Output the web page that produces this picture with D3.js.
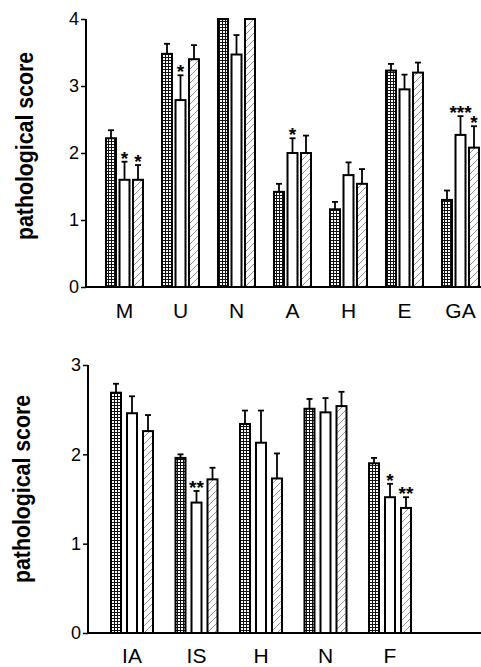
<!DOCTYPE html>
<html>
<head>
<meta charset="utf-8">
<script src="https://cdn.jsdelivr.net/npm/d3@7"></script>
<style>
  body { margin: 0; background: #fff; }
  svg { display: block; }
</style>
</head>
<body>
<div id="chart"></div>
<script>
// top panel
var topCats = ["M", "U", "N", "A", "H", "E", "GA"];
var topMean1 = [2.22, 3.48, 4.00, 1.42, 1.16, 3.23, 1.30];
var topErr1  = [0.12, 0.15, 0.00, 0.12, 0.11, 0.10, 0.14];
var topMean2 = [1.60, 2.79, 3.47, 2.00, 1.67, 2.95, 2.27];
var topErr2  = [0.27, 0.37, 0.29, 0.22, 0.19, 0.22, 0.28];
var topMean3 = [1.60, 3.40, 4.00, 2.00, 1.54, 3.20, 2.08];
var topErr3  = [0.22, 0.21, 0.00, 0.26, 0.22, 0.15, 0.32];
var topStars2 = ["*", "*", "", "*", "", "", "***"];
var topStars3 = ["*", "", "", "", "", "", "*"];
var topTicks = [0, 1, 2, 3, 4];

// bottom panel
var botCats = ["IA", "IS", "H", "N", "F"];
var botMean1 = [2.69, 1.96, 2.34, 2.51, 1.90];
var botErr1  = [0.10, 0.04, 0.15, 0.11, 0.06];
var botMean2 = [2.46, 1.46, 2.13, 2.47, 1.52];
var botErr2  = [0.19, 0.13, 0.36, 0.16, 0.15];
var botMean3 = [2.26, 1.72, 1.73, 2.54, 1.40];
var botErr3  = [0.18, 0.13, 0.28, 0.16, 0.12];
var botStars2 = ["", "**", "", "", "*"];
var botStars3 = ["", "", "", "", "**"];
var botTicks = [0, 1, 2, 3];

var W = 481, H = 667;
var svg = d3.select("#chart").append("svg")
    .attr("width", W).attr("height", H);

var defs = svg.append("defs");
// dark grid fill
var pg = defs.append("pattern").attr("id", "grid")
    .attr("patternUnits", "userSpaceOnUse").attr("width", 3).attr("height", 3);
pg.append("rect").attr("width", 3).attr("height", 3).attr("fill", "#111");
pg.append("rect").attr("x", 1).attr("y", 1).attr("width", 2).attr("height", 2).attr("fill", "#fff");
// light diagonal hatch
var ph = defs.append("pattern").attr("id", "hatch")
    .attr("patternUnits", "userSpaceOnUse").attr("width", 7).attr("height", 7);
ph.append("rect").attr("width", 7).attr("height", 7).attr("fill", "#fff");
ph.append("path").attr("d", "M-1,8 L8,-1 M-1,1 L1,-1 M6,8 L8,6")
    .attr("stroke", "#777").attr("stroke-width", 0.8);

var fills = ["url(#grid)", "#fff", "url(#hatch)"];
var font = "Arial, 'Liberation Sans', sans-serif";

function panel(cfg) {
    var g = svg.append("g");

    var x = d3.scaleBand().domain(cfg.cats).range(cfg.xRange);
    var xSub = d3.scaleBand().domain([0, 1, 2]).range(cfg.subRange).paddingInner(cfg.subPad);
    var y = d3.scaleLinear().domain([0, cfg.max]).range([cfg.y0, cfg.yTop]);

    var rows = [];
    cfg.cats.forEach(function(c, i) {
        [0, 1, 2].forEach(function(s) {
            rows.push({cat: c, s: s, v: cfg.means[s][i], e: cfg.errs[s][i], star: cfg.stars[s] ? cfg.stars[s][i] : ""});
        });
    });
    var cx = function(d) { return x(d.cat) + xSub(d.s) + xSub.bandwidth() / 2; };

    // error bars (upward only)
    var eb = g.selectAll(".err").data(rows).enter().append("g");
    eb.append("line")
        .attr("x1", cx).attr("x2", cx)
        .attr("y1", function(d) { return y(d.v); })
        .attr("y2", function(d) { return y(d.v + d.e); })
        .attr("stroke", "#000").attr("stroke-width", 1.8);
    eb.filter(function(d) { return d.e > 0; }).append("line")
        .attr("x1", function(d) { return cx(d) - 3; })
        .attr("x2", function(d) { return cx(d) + 3; })
        .attr("y1", function(d) { return y(d.v + d.e); })
        .attr("y2", function(d) { return y(d.v + d.e); })
        .attr("stroke", "#000").attr("stroke-width", 1.8);

    // bars
    g.selectAll(".bar").data(rows).enter().append("rect")
        .attr("x", function(d) { return x(d.cat) + xSub(d.s); })
        .attr("y", function(d) { return y(d.v); })
        .attr("width", xSub.bandwidth())
        .attr("height", function(d) { return y(0) - y(d.v); })
        .attr("fill", function(d) { return fills[d.s]; })
        .attr("stroke", "#000").attr("stroke-width", 2);

    // significance stars
    g.selectAll(".star").data(rows.filter(function(d) { return d.star; })).enter().append("text")
        .attr("x", cx)
        .attr("y", function(d) { return y(d.v + d.e) + 3; })
        .attr("text-anchor", "middle")
        .style("font-family", font)
        .style("font-size", "19px").style("font-weight", "bold")
        .text(function(d) { return d.star; });

    // y axis
    var ay = g.append("g").attr("transform", "translate(" + cfg.axisX + ",0)")
        .call(d3.axisLeft(y).tickValues(cfg.ticks).tickFormat(d3.format("d")).tickSize(5).tickPadding(2));
    ay.select(".domain").attr("stroke-width", 2).attr("d", "M0," + cfg.y0 + "V" + cfg.yTop);
    ay.selectAll(".tick line").attr("stroke-width", 1.5);
    ay.selectAll("text").style("font-family", font)
        .style("font-size", "18px").attr("fill", "#000");

    // x axis line
    g.append("line")
        .attr("x1", cfg.axisX).attr("x2", W)
        .attr("y1", cfg.y0).attr("y2", cfg.y0)
        .attr("stroke", "#000").attr("stroke-width", 2);

    // category labels
    g.selectAll(".cat").data(cfg.cats).enter().append("text")
        .attr("x", function(d) { return x(d) + xSub(1) + xSub.bandwidth() / 2; })
        .attr("y", cfg.labelY)
        .attr("text-anchor", "middle")
        .style("font-family", font)
        .style("font-size", "21px")
        .text(function(d) { return d; });

    // y label
    g.append("text")
        .attr("transform", "translate(" + cfg.titleX + "," + cfg.titleY + ") rotate(-90)")
        .attr("text-anchor", "middle")
        .attr("textLength", 188).attr("lengthAdjust", "spacingAndGlyphs")
        .style("font-family", font)
        .style("font-size", "23px").style("font-weight", "bold")
        .text("pathological score");
}

panel({
    cats: topCats,
    means: [topMean1, topMean2, topMean3],
    errs: [topErr1, topErr2, topErr3],
    stars: [null, topStars2, topStars3],
    ticks: topTicks, max: 4,
    y0: 287, yTop: 19,
    xRange: [97, 97 + 56 * 7],
    subRange: [9, 46], subPad: 0.26,
    axisX: 86, labelY: 318,
    titleX: 33, titleY: 146
});

panel({
    cats: botCats,
    means: [botMean1, botMean2, botMean3],
    errs: [botErr1, botErr2, botErr3],
    stars: [null, botStars2, botStars3],
    ticks: botTicks, max: 3,
    y0: 633, yTop: 365,
    xRange: [100, 100 + 64.5 * 5],
    subRange: [11, 53], subPad: 0.375,
    axisX: 88, labelY: 663,
    titleX: 30, titleY: 489
});
</script>
</body>
</html>
